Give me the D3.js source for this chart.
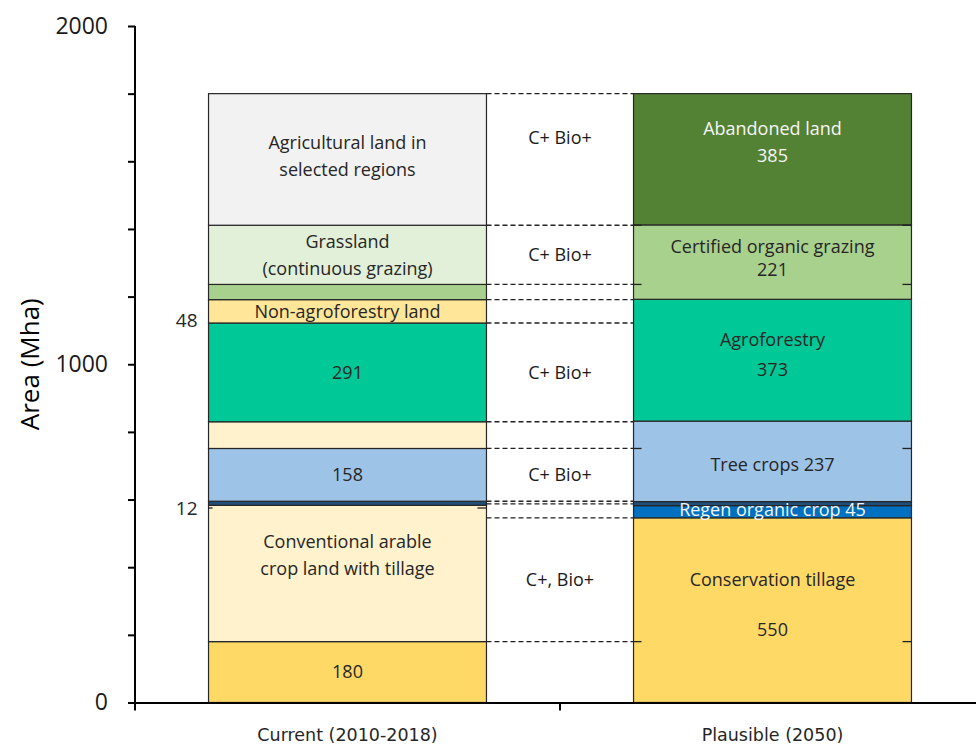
<!DOCTYPE html>
<html>
<head>
<meta charset="utf-8">
<script src="https://cdn.jsdelivr.net/npm/d3@7"></script>
<style>
  body { margin: 0; background: #fff; }
  svg { display: block; font-family: "Open Sans", "Noto Sans", sans-serif; }
</style>
</head>
<body>
<div id="chart"></div>
<script>
// --- data ---
const categories = ['Current (2010-2018)', 'Plausible (2050)']

// stacked segments, bottom to top (Mha)
const currentValues = [180, 403, 12, 156, 79, 292, 69, 45, 175, 389]
const currentKinds = ['gold', 'cream', 'navy', 'sky', 'cream', 'teal', 'sand', 'moss', 'mint', 'grey']
const currentLabels = ['180', 'Conventional arable\ncrop land with tillage', '', '158', '', '291',
  'Non-agroforestry land', '', 'Grassland\n(continuous grazing)', 'Agricultural land in\nselected regions']

const plausibleValues = [546, 36, 12, 238, 360, 220, 388]
const plausibleKinds = ['gold', 'blue', 'navy', 'sky', 'teal', 'moss', 'forest']
const plausibleLabels = ['Conservation tillage\n\n550', 'Regen organic crop 45', '', 'Tree crops 237',
  'Agroforestry\n373', 'Certified organic grazing\n221', 'Abandoned land\n385']

// dashed connector levels (Mha)
const connectorLevels = [180, 546, 587, 595, 751, 830, 1122, 1191, 1236, 1411, 1800]
// short stubs where connectors touch the outer edges of the bars
const stubLevels = [180, 751, 1236, 1411]

// "C+ Bio+" notes, between two levels
const gapNotes = ['C+, Bio+', 'C+ Bio+', 'C+ Bio+', 'C+ Bio+', 'C+ Bio+']
const gapFrom = [180, 596, 830, 1236, 1411]
const gapTo = [546, 751, 1122, 1411, 1800]

// side labels left of the current bar
const sideTexts = ['12', '48']
const sideValues = [575, 1131]

const yTicks = d3.range(0, 2001, 200)
const yLabelTicks = [0, 1000, 2000]

// --- styles ---
const palette = {
  gold: '#FFD966', cream: '#FFF2CC', navy: '#1F4E79', sky: '#9DC3E6', teal: '#00C896',
  sand: '#FFE699', moss: '#A9D18E', mint: '#E2F0D9', grey: '#F2F2F2', blue: '#0070C0', forest: '#548235'
}
const lightText = { navy: true, blue: true, forest: true }
// a few labels sit off the segment centre
const labelNudge = {
  'Abandoned land\n385': -17,
  'Conventional arable\ncrop land with tillage': -18,
  'Agroforestry\n373': -5,
  'Agricultural land in\nselected regions': -3,
  'Conservation tillage\n\n550': -5,
  'Tree crops 237': 3,
  'Regen organic crop 45': -2,
  'Certified organic grazing\n221': -4
}
const lineHeights = { 'Certified organic grazing\n221': 23, 'Conservation tillage\n\n550': 25, 'Agroforestry\n373': 30 }

const width = 976
const height = 745

const svg = d3.select('#chart')
  .append('svg')
  .attr('width', width)
  .attr('height', height)

const x = d3.scaleBand()
  .domain(categories)
  .range([135, 985])
  .paddingInner(0.346)
  .paddingOuter(0.173)

const y = d3.scaleLinear()
  .domain([0, 2000])
  .range([702.5, 26])

function toSegments(values, kinds, labels) {
  const tops = d3.cumsum(values)
  return values.map((v, i) => ({
    y0: tops[i] - v,
    y1: tops[i],
    kind: kinds[i],
    label: labels[i]
  }))
}

const bars = [
  { cat: categories[0], segs: toSegments(currentValues, currentKinds, currentLabels) },
  { cat: categories[1], segs: toSegments(plausibleValues, plausibleKinds, plausibleLabels) }
]

// dashed connectors
const xL = x(categories[0]) + x.bandwidth()
const xR = x(categories[1])
svg.append('g')
  .selectAll('line')
  .data(connectorLevels)
  .join('line')
  .attr('x1', xL)
  .attr('x2', xR)
  .attr('y1', d => y(d))
  .attr('y2', d => y(d))
  .attr('stroke', '#222')
  .attr('stroke-width', 1.3)
  .attr('stroke-dasharray', '5,3')

// segments
const barG = svg.append('g')
  .selectAll('g')
  .data(bars)
  .join('g')

barG.selectAll('rect')
  .data(d => d.segs.map(s => ({ ...s, cat: d.cat })))
  .join('rect')
  .attr('x', d => x(d.cat))
  .attr('width', x.bandwidth())
  .attr('y', d => y(d.y1))
  .attr('height', d => y(d.y0) - y(d.y1))
  .attr('fill', d => palette[d.kind])
  .attr('stroke', '#262626')
  .attr('stroke-width', 1.2)

// stubs at the outer edges of the plausible bar
const xR2 = x(categories[1]) + x.bandwidth()
const stubG = svg.append('g').attr('stroke', '#222').attr('stroke-width', 1.3)
stubLevels.forEach(v => {
  stubG.append('line').attr('x1', xR).attr('x2', xR + 8).attr('y1', y(v)).attr('y2', y(v))
  stubG.append('line').attr('x1', xR2 - 9).attr('x2', xR2).attr('y1', y(v)).attr('y2', y(v))
})
const xL0 = x(categories[0])
stubG.append('line').attr('x1', xL0).attr('x2', xL0 + 4).attr('y1', y(sideValues[0])).attr('y2', y(sideValues[0]))
stubG.append('line').attr('x1', xL - 9).attr('x2', xL).attr('y1', y(sideValues[0])).attr('y2', y(sideValues[0]))

// segment labels
barG.selectAll('text')
  .data(d => d.segs.filter(s => s.label).map(s => ({ ...s, cat: d.cat })))
  .join('text')
  .attr('text-anchor', 'middle')
  .attr('font-size', 18)
  .attr('fill', d => lightText[d.kind] ? '#F5F5F5' : '#262626')
  .each(function (d) {
    const lines = d.label.split('\n')
    const lh = lineHeights[d.label] || 27
    const cy = (y(d.y0) + y(d.y1)) / 2 + (labelNudge[d.label] || 0)
    const cx = x(d.cat) + x.bandwidth() / 2
    d3.select(this).selectAll('tspan')
      .data(lines)
      .join('tspan')
      .attr('x', cx)
      .attr('y', (l, i) => cy + (i - (lines.length - 1) / 2) * lh)
      .attr('dy', '0.35em')
      .text(l => l)
  })

// gap notes
const gapX = (xL + xR) / 2
svg.append('g')
  .selectAll('text')
  .data(gapNotes)
  .join('text')
  .attr('x', gapX)
  .attr('y', (d, i) => (y(gapFrom[i]) + y(gapTo[i])) / 2 + (i === 4 ? -22 : 0))
  .attr('dy', '0.35em')
  .attr('text-anchor', 'middle')
  .attr('font-size', 18)
  .attr('fill', '#1a1a1a')
  .text(d => d)

// side labels
svg.append('g')
  .selectAll('text')
  .data(sideTexts)
  .join('text')
  .attr('x', x(categories[0]) - 11)
  .attr('y', (d, i) => y(sideValues[i]))
  .attr('dy', '0.35em')
  .attr('text-anchor', 'end')
  .attr('font-size', 19)
  .attr('fill', '#262626')
  .text(d => d)

// y axis
const yAxis = svg.append('g')
  .attr('transform', 'translate(135,0)')
  .call(d3.axisLeft(y)
    .tickValues(yTicks)
    .tickSize(7)
    .tickPadding(20)
    .tickFormat(d => yLabelTicks.includes(d) ? d : ''))
yAxis.select('.domain').attr('stroke', '#000').attr('stroke-width', 2).attr('d', `M0,${y(2000)}V${y(0)}`)
yAxis.selectAll('.tick line').attr('stroke', '#000').attr('stroke-width', 2)
yAxis.selectAll('.tick text')
  .attr('font-size', 23)
  .attr('font-family', '"Open Sans", sans-serif')
  .attr('fill', '#1a1a1a')

// x axis: line plus ticks at category boundaries
const xAxisG = svg.append('g')
xAxisG.append('line')
  .attr('x1', 135).attr('x2', width)
  .attr('y1', y(0) + 0.5).attr('y2', y(0) + 0.5)
  .attr('stroke', '#000').attr('stroke-width', 2)
const boundaries = [135, (xL + xR) / 2]
xAxisG.selectAll('.xt')
  .data(boundaries)
  .join('line')
  .attr('x1', d => d).attr('x2', d => d)
  .attr('y1', y(0)).attr('y2', y(0) + 8)
  .attr('stroke', '#000').attr('stroke-width', 2)
xAxisG.selectAll('text')
  .data(categories)
  .join('text')
  .attr('x', d => x(d) + x.bandwidth() / 2)
  .attr('y', 735)
  .attr('dy', '0.35em')
  .attr('text-anchor', 'middle')
  .attr('font-size', 17.5)
  .attr('font-family', '"DejaVu Sans", sans-serif')
  .attr('fill', '#262626')
  .text(d => d)

// axis title
svg.append('text')
  .attr('transform', `translate(30,${y(1000)}) rotate(-90)`)
  .attr('text-anchor', 'middle')
  .attr('dy', '0.35em')
  .attr('font-size', 26)
  .attr('fill', '#000')
  .text('Area (Mha)')
</script>
</body>
</html>
